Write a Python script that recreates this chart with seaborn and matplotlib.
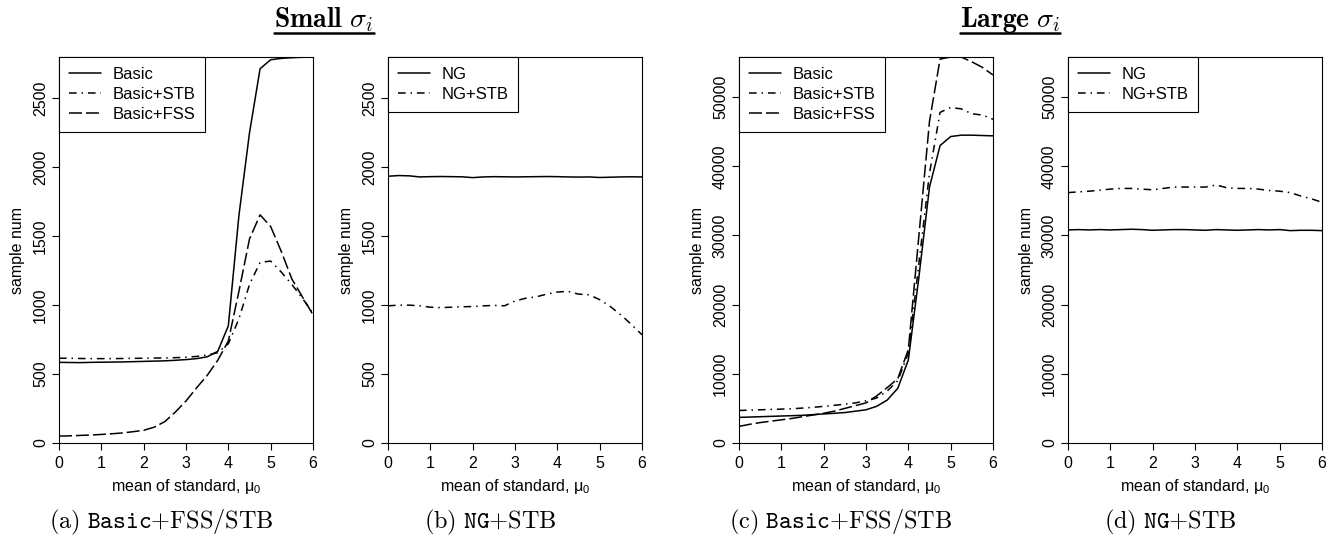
import numpy as np
import pandas as pd
import seaborn as sns
import matplotlib.pyplot as plt
from matplotlib.lines import Line2D

# mean of standard (x axis)
mu0 = [0, 0.25, 0.5, 0.75, 1, 1.25, 1.5, 1.75, 2, 2.25, 2.5, 2.75, 3,
       3.25, 3.5, 3.75, 4, 4.25, 4.5, 4.75, 5, 5.25, 5.5, 5.75, 6]

# small sigma_i
small_basic = [585, 584, 583, 585, 586, 587, 588, 590, 592, 594, 596, 600, 605,
               612, 625, 665, 850, 1650, 2250, 2715, 2780, 2790, 2795, 2798, 2800]
small_basic_stb = [615, 615, 613, 612, 612, 612, 613, 614, 615, 616, 617, 619, 622,
                   628, 638, 655, 720, 900, 1150, 1310, 1320, 1240, 1150, 1050, 940]
small_basic_fss = [50, 52, 55, 58, 62, 67, 73, 82, 92, 115, 155, 225, 305,
                   400, 490, 600, 740, 1100, 1480, 1655, 1570, 1390, 1190, 1060, 930]
small_ng = [1935, 1940, 1938, 1930, 1932, 1933, 1932, 1931, 1925, 1930, 1932, 1931, 1930,
            1931, 1932, 1933, 1932, 1930, 1929, 1930, 1926, 1928, 1930, 1931, 1930]
small_ng_stb = [995, 1000, 1000, 995, 985, 982, 985, 988, 990, 995, 998, 995, 1030,
                1050, 1060, 1080, 1095, 1100, 1080, 1075, 1040, 990, 930, 860, 785]

# large sigma_i
large_basic = [3700, 3750, 3800, 3850, 3900, 3950, 4000, 4100, 4200, 4300, 4400, 4600, 4800,
               5300, 6200, 7900, 12000, 24000, 37000, 43000, 44300, 44500, 44500, 44450, 44400]
large_basic_stb = [4700, 4750, 4800, 4850, 4900, 4950, 5050, 5150, 5300, 5450, 5600, 5800, 6100,
                   6500, 7500, 9000, 13000, 26000, 39000, 47800, 48500, 48300, 47600, 47400, 46800]
large_basic_fss = [2400, 2700, 2950, 3150, 3350, 3550, 3800, 4050, 4300, 4600, 5000, 5400, 5800,
                   6800, 8000, 9300, 13500, 30000, 46500, 55500, 55800, 55800, 55100, 54300, 53200]
large_ng = [30800, 30850, 30800, 30850, 30800, 30850, 30900, 30850, 30750, 30800, 30850, 30850, 30800,
            30750, 30850, 30800, 30750, 30800, 30850, 30800, 30850, 30700, 30750, 30750, 30700]
large_ng_stb = [36200, 36300, 36400, 36550, 36700, 36800, 36800, 36700, 36600, 36800, 37000, 37000, 37000,
                37000, 37300, 36900, 36800, 36800, 36700, 36500, 36400, 36200, 35700, 35300, 34800]

panels = [
    {"series": {"Basic": small_basic, "Basic+STB": small_basic_stb, "Basic+FSS": small_basic_fss},
     "ymax": 2800, "ticks": [0, 500, 1000, 1500, 2000, 2500],
     "cap": r"$\mathrm{(a)\ }\mathtt{Basic}{+}\mathrm{FSS/STB}$"},
    {"series": {"NG": small_ng, "NG+STB": small_ng_stb},
     "ymax": 2800, "ticks": [0, 500, 1000, 1500, 2000, 2500],
     "cap": r"$\mathrm{(b)\ }\mathtt{NG}{+}\mathrm{STB}$"},
    {"series": {"Basic": large_basic, "Basic+STB": large_basic_stb, "Basic+FSS": large_basic_fss},
     "ymax": 55800, "ticks": [0, 10000, 20000, 30000, 40000, 50000],
     "cap": r"$\mathrm{(c)\ }\mathtt{Basic}{+}\mathrm{FSS/STB}$"},
    {"series": {"NG": large_ng, "NG+STB": large_ng_stb},
     "ymax": 55800, "ticks": [0, 10000, 20000, 30000, 40000, 50000],
     "cap": r"$\mathrm{(d)\ }\mathtt{NG}{+}\mathrm{STB}$"},
]

solid = ""
dotdash = (5.0, 3.2, 1.0, 3.2)
dashed = (8.5, 2.6)
dash_map = {"Basic": solid, "NG": solid, "Basic+STB": dotdash, "NG+STB": dotdash, "Basic+FSS": dashed}

sns.set_theme(style="ticks")
plt.rcParams['font.family'] = ['Liberation Sans', 'DejaVu Sans']
plt.rcParams.update({
    "text.color": "black",
    "axes.edgecolor": "black", "axes.linewidth": 0.8,
    "xtick.color": "black", "ytick.color": "black",
    "xtick.major.size": 5, "ytick.major.size": 5,
    "xtick.major.width": 0.8, "ytick.major.width": 0.8,
    "xtick.labelsize": 11.5, "ytick.labelsize": 11.5,
    "axes.labelsize": 11.5, "axes.labelcolor": "black",
})

W, H = 1338, 535
fig = plt.figure(figsize=(W / 100, H / 100), dpi=100)

lefts = [59, 388, 739, 1068]
axw, top, bottom = 254, 57, 443

for i, p in enumerate(panels):
    ax = fig.add_axes([lefts[i] / W, (H - bottom) / H, axw / W, (bottom - top) / H])
    names = list(p["series"].keys())
    df = pd.DataFrame({
        "mu0": np.tile(mu0, len(names)),
        "num": np.concatenate([p["series"][n] for n in names]),
        "method": np.repeat(names, len(mu0)),
    })
    sns.lineplot(data=df, x="mu0", y="num", style="method", style_order=names,
                 dashes={n: dash_map[n] for n in names}, color="black",
                 linewidth=1.1, ax=ax)
    ax.set_xlim(0, 6)
    ax.set_ylim(0, p["ymax"])
    ax.set_xticks([0, 1, 2, 3, 4, 5, 6])
    ax.set_yticks(p["ticks"])
    ax.tick_params(axis="y", labelrotation=90, pad=3)
    for lab in ax.get_yticklabels():
        lab.set_verticalalignment("center")
    ax.tick_params(axis="x", pad=4)
    ax.set_xlabel(r"mean of standard, μ$_\mathregular{0}$", labelpad=5)
    ax.set_ylabel("sample num", labelpad=6)
    leg = ax.legend(loc="upper left", borderaxespad=0, fontsize=12,
                    handlelength=1.9, handletextpad=0.7, labelspacing=0.3,
                    borderpad=0.6, fancybox=False, framealpha=1, edgecolor="black")
    leg.get_frame().set_linewidth(0.8)
    leg.set_title(None)
    fig.text((lefts[i] + axw / 2 - 25) / W, 7 / H, p["cap"], ha="center",
             va="baseline", fontsize=17.5, math_fontfamily="cm")

titles = [(r"$\mathbf{Small}\ \sigma_i$", 324), (r"$\mathbf{Large}\ \sigma_i$", 1010)]
tobjs = []
for txt, cx in titles:
    tobjs.append(fig.text(cx / W, (H - 27) / H, txt, ha="center", va="baseline",
                          fontsize=20, math_fontfamily="cm"))

fig.canvas.draw()
for t in tobjs:
    bb = t.get_window_extent()
    yl = (H - 33) / H
    fig.add_artist(Line2D([bb.x0 / W, bb.x1 / W], [yl, yl], color="black",
                          linewidth=1.8, transform=fig.transFigure))

fig.savefig("out.png", dpi=100)
